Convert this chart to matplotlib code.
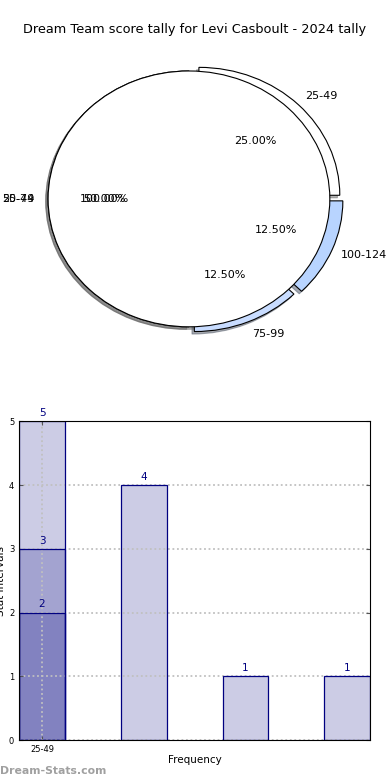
import numpy as np
import matplotlib.pyplot as plt

# data
pie_labels = ['25-49', '50-74', '75-99', '100-124']
pie_counts = [2, 4, 1, 1]
pie_colors = ['#ffffff', '#ffffff', '#c8dcff', '#b8d4ff']
pie_explode = [0.1, 0, 0.1, 0.1]
total_label = ['25-49']
total_count = [8]

bar_pos = [0, 0, 0, 1, 2, 3]
bar_vals = [5, 3, 2, 4, 1, 1]
tick_labels = ['25-49']

fig = plt.figure(figsize=(3.9, 7.8), dpi=100)
fig.text(0.5, 0.962, 'Dream Team score tally for Levi Casboult - 2024 tally',
         ha='center', va='center', fontsize=9.3)

# pie chart
ax1 = fig.add_axes([0.033, 0.54, 0.903, 0.41])
shadow = {'ox': -0.012, 'oy': -0.014, 'shade': 0.6}
wedges, texts, autotexts = ax1.pie(pie_counts, labels=pie_labels, colors=pie_colors,
                                   explode=pie_explode, autopct='%1.2f%%', shadow=shadow,
                                   textprops={'fontsize': 8},
                                   wedgeprops={'linewidth': 0.8, 'edgecolor': 'black'})
# the exploded wedges sit flatter in the reference: squash their vertical offset
for w, t, at in zip(wedges, texts, autotexts):
    cx, cy = w.center
    w.set_center((cx, cy * 0.4))
    for txt in (t, at):
        x, y = txt.get_position()
        txt.set_position((x - cx * 0.3, y - cy * 0.6))
ax1.pie(total_count, labels=total_label, colors=['#ffffff'],
        autopct='%1.2f%%', shadow=shadow, textprops={'fontsize': 8},
        wedgeprops={'linewidth': 0.8, 'edgecolor': 'black'})
ax1.set_aspect('auto')
ax1.set_xlim(-1.25, 1.25)
ax1.set_ylim(-1.25, 1.25)

# bar chart
ax2 = fig.add_axes([0.049, 0.051, 0.9, 0.409])
ax2.bar(bar_pos, bar_vals, width=0.45, color='navy', alpha=0.2,
        edgecolor='none', zorder=1)
ax2.bar(bar_pos, bar_vals, width=0.45, color='none', edgecolor='navy',
        linewidth=0.9, zorder=2)
for x, v in zip(bar_pos, bar_vals):
    ax2.text(x, v + 0.05, str(v), ha='center', va='bottom', color='navy', fontsize=7.5)
ax2.set_xlim(-0.225, 3.225)
ax2.set_ylim(0, 5)
ax2.set_xticks([0])
ax2.set_xticklabels(tick_labels, fontsize=6)
ax2.set_yticks(range(6))
ax2.tick_params(axis='y', labelsize=6)
ax2.tick_params(direction='in', length=3, top=True, right=True, color='#555555')
ax2.set_axisbelow('line')
ax2.grid(True, linestyle=(0, (1, 1.5)), color='#c0c0c0', linewidth=1.3)
ax2.set_xlabel('Frequency', fontsize=7.5, labelpad=1)
ax2.set_ylabel('Stat Intervals', fontsize=7.5, labelpad=2)

fig.text(0.0, 0.005, 'Dream-Stats.com', color='#a0a0a0', fontsize=7.8,
         fontweight='semibold', ha='left', va='bottom')

plt.savefig('out.png', dpi=100)
